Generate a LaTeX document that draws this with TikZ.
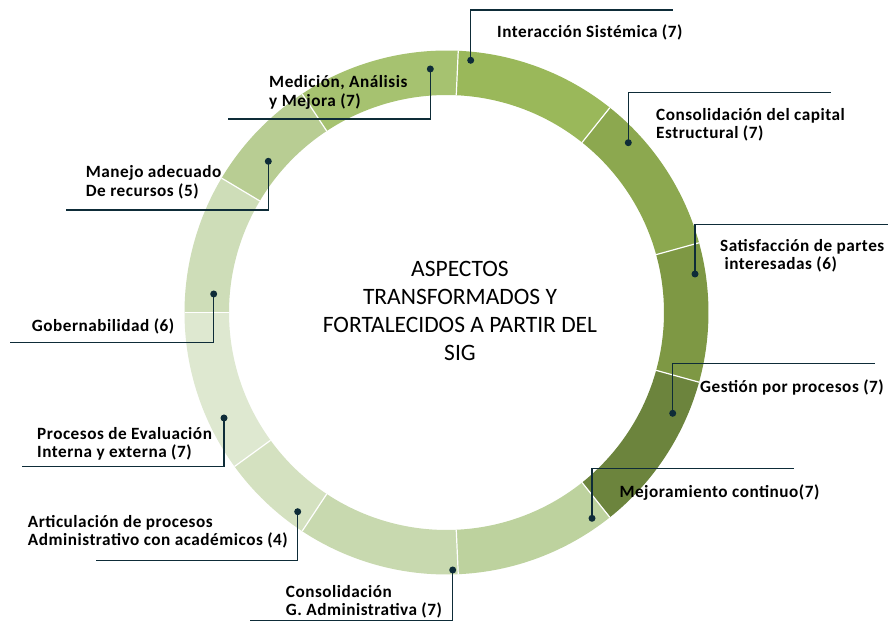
\documentclass[tikz,border=0pt]{standalone}
\usepackage{fontspec}
\setmainfont{Carlito}
\newfontfamily\labelfont[LetterSpace=3]{Carlito}
\usetikzlibrary{calc}

\definecolor{segA}{RGB}{154,184,90}
\definecolor{segB}{RGB}{140,168,79}
\definecolor{segC}{RGB}{126,152,68}
\definecolor{segD}{RGB}{108,132,61}
\definecolor{segE}{RGB}{189,210,158}
\definecolor{segF}{RGB}{200,217,175}
\definecolor{segG}{RGB}{212,225,192}
\definecolor{segH}{RGB}{222,232,208}
\definecolor{segI}{RGB}{206,221,184}
\definecolor{segJ}{RGB}{184,205,147}
\definecolor{segK}{RGB}{166,194,112}
\definecolor{leader}{RGB}{14,44,56}

% outer and inner radius of the ring
\newcommand\ringRo{262}
\newcommand\ringRi{217.5}
% one ring segment: colour, start angle, end angle (clockwise)
\newcommand\ringseg[3]{%
  \fill[#1] ($(c)+(#2:\ringRo)$) arc[start angle=#2,end angle=#3,radius=\ringRo]
    -- ($(c)+(#3:\ringRi)$) arc[start angle=#3,end angle=#2,radius=\ringRi] -- cycle;}
\newcommand\ringsep[1]{%
  \draw[white,line width=1.2pt] ($(c)+(#1:\ringRi)$) -- ($(c)+(#1:\ringRo)$);}

\begin{document}
\begin{tikzpicture}[x=1pt,y=1pt,
  lbl/.style={anchor=west,align=left,inner sep=0pt,text=black,
    font=\labelfont\fontsize{17.2}{18.5}\selectfont\bfseries},
  ctr/.style={align=center,inner sep=0pt,text=black,
    font=\fontsize{23.5}{28}\selectfont},
  lead/.style={draw=leader,line width=1.5pt},
  dot/.style={fill=leader}]
\useasboundingbox (0,0) rectangle (888,623);
\fill[white] (0,0) rectangle (888,623);

\coordinate (c) at (446.5,310.5);

% ring segments, proportional to the counts (total 70)
\ringseg{segA}{87.4286}{51.4286}
\ringseg{segB}{51.4286}{15.4286}
\ringseg{segC}{15.4286}{-15.4286}
\ringseg{segD}{-15.4286}{-51.4286}
\ringseg{segE}{-51.4286}{-87.4286}
\ringseg{segF}{-87.4286}{-123.4286}
\ringseg{segG}{-123.4286}{-144}
\ringseg{segH}{-144}{-180}
\ringseg{segI}{-180}{-210.857}
\ringseg{segJ}{-210.857}{-236.571}
\ringseg{segK}{-236.571}{-272.5714}

\foreach \a in {87.4286,51.4286,15.4286,-15.4286,-51.4286,-87.4286,-123.4286,-144,-180,-210.857,-236.571}
  {\ringsep{\a}}

% centre title
\node[ctr] (title) at (460,312) {ASPECTOS\\TRANSFORMADOS Y\\FORTALECIDOS A PARTIR DEL\\SIG};

% dots on the ring
\coordinate (d1) at (470.7,562.7);
\coordinate (d2) at (628.3,480.3);
\coordinate (d3) at (695,349);
\coordinate (d4) at (672.7,209.7);
\coordinate (d5) at (592,104.7);
\coordinate (d6) at (452.7,53);
\coordinate (d7) at (297.7,111.3);
\coordinate (d8) at (224,205);
\coordinate (d9) at (213.7,329);
\coordinate (d10) at (268.3,461.7);
\coordinate (d11) at (430.3,554);

% free ends of the leader lines
\coordinate (e1) at (673,613);
\coordinate (e2) at (830.7,530.3);
\coordinate (e3) at (888,398.7);
\coordinate (e4) at (875,259.7);
\coordinate (e5) at (794,154.7);
\coordinate (e6) at (250,2.3);
\coordinate (e7) at (95.7,62.3);
\coordinate (e8) at (21.7,156.3);
\coordinate (e9) at (10,280.3);
\coordinate (e10) at (66,413);
\coordinate (e11) at (228.3,504);

\foreach \i in {1,...,11} {
  \draw[lead] (d\i) |- (e\i);
  \fill[dot] (d\i) circle (3.5);
}

% labels
\node[lbl] (t1) at (497,590.5) {Interacción Sistémica (7)};
\node[lbl] (t2) at (656,498) {Consolidación del capital\\Estructural (7)};
\node[lbl] (t3) at (720,367.2) {Satisfacción de partes\\\ interesadas (6)};
\node[lbl] (t4) at (700,236) {Gestión por procesos (7)};
\node[lbl] (t5) at (619.3,130.7) {Mejoramiento continuo(7)};
\node[lbl] (t6) at (285.7,21.3) {Consolidación\\G. Administrativa (7)};
\node[lbl] (t7) at (27.7,91.3) {Articulación de procesos\\Administrativo con académicos (4)};
\node[lbl] (t8) at (37,179) {Procesos de Evaluación\\Interna y externa (7)};
\node[lbl] (t9) at (31.7,296.3) {Gobernabilidad (6)};
\node[lbl] (t10) at (85.7,440.8) {Manejo adecuado\\De recursos (5)};
\node[lbl] (t11) at (269,530.8) {Medición, Análisis\\y Mejora (7)};
\end{tikzpicture}
\end{document}
